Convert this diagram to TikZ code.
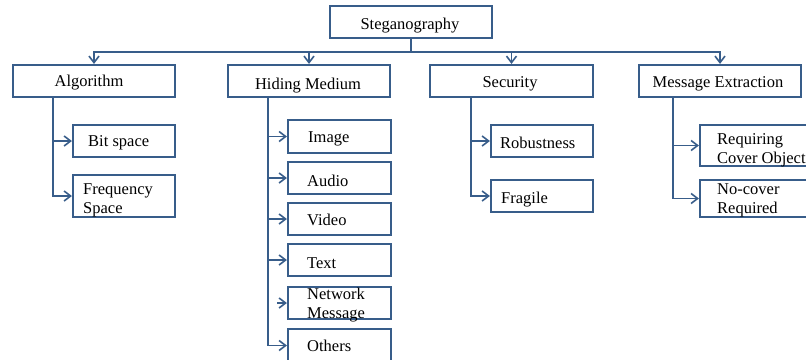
\documentclass[tikz,border=0pt]{standalone}
\usepackage{fontspec}
\setmainfont{Liberation Serif}
\usetikzlibrary{arrows.meta,fit}
\definecolor{linecol}{RGB}{56,93,138}
\begin{document}
\begin{tikzpicture}[x=1pt,y=-1pt,
  box/.style={draw=linecol, line width=2.2pt, rectangle, inner sep=0pt},
  lbl/.style={inner sep=0pt, font=\fontsize{16.5}{19}\selectfont, text=black},
  conn/.style={draw=linecol, line width=1.8pt},
  arr/.style={conn, -{Straight Barb[length=6.5pt,width=10pt,line width=1.6pt]}}]
\useasboundingbox[fill=white] (0,0) rectangle (806,359);

% boxes
\node[box, fit={(330,6)(492,38)}]   (steg) {};
\node[box, fit={(13,65)(175,97)}]   (alg)  {};
\node[box, fit={(228,65)(390,97)}]  (hid)  {};
\node[box, fit={(430,65)(593,97)}]  (sec)  {};
\node[box, fit={(639,65)(801,97)}]  (msg)  {};
\node[box, fit={(73,125)(175,157)}] (bit)  {};
\node[box, fit={(73,175)(175,217)}] (freq) {};
\node[box, fit={(288,120)(391,153)}] (img) {};
\node[box, fit={(288,162)(391,194)}] (aud) {};
\node[box, fit={(288,203)(391,235)}] (vid) {};
\node[box, fit={(288,244)(391,276)}] (txt) {};
\node[box, fit={(288,287)(391,319)}] (net) {};
\node[box, fit={(288,329)(391,362)}] (oth) {};
\node[box, fit={(491,125)(593,157)}] (rob) {};
\node[box, fit={(491,180)(593,212)}] (fra) {};
\node[box, fit={(700,125)(812,166)}] (req) {};
\node[box, fit={(700,180)(812,217)}] (noc) {};

% labels
\node[lbl, anchor=base] (tsteg) at (410,29) {Steganography};
\node[lbl, anchor=base] (talg)  at (89,86)  {Algorithm};
\node[lbl, anchor=base] (thid)  at (308,89) {Hiding Medium};
\node[lbl, anchor=base] (tsec)  at (510,87) {Security};
\node[lbl, anchor=base] (tmsg)  at (718,87) {Message Extraction};
\node[lbl, anchor=base west] (tbit)  at (88,146)  {Bit space};
\node[lbl, anchor=base west] (tfr1)  at (83,194)  {Frequency};
\node[lbl, anchor=base west] (tfr2)  at (83,213)  {Space};
\node[lbl, anchor=base west] (timg)  at (308,142) {Image};
\node[lbl, anchor=base west] (taud)  at (307,186) {Audio};
\node[lbl, anchor=base west] (tvid)  at (307,225) {Video};
\node[lbl, anchor=base west] (ttxt)  at (307,268) {Text};
\node[lbl, anchor=base west] (tnt1)  at (307,299) {Network};
\node[lbl, anchor=base west] (tnt2)  at (307,318) {Message};
\node[lbl, anchor=base west] (toth)  at (307,351) {Others};
\node[lbl, anchor=base west] (trob)  at (500,148) {Robustness};
\node[lbl, anchor=base west] (tfra)  at (501,203) {Fragile};
\node[lbl, anchor=base west] (trq1)  at (717,144) {Requiring};
\node[lbl, anchor=base west] (trq2)  at (717,163) {Cover Object};
\node[lbl, anchor=base west] (tnc1)  at (717,194) {No-cover};
\node[lbl, anchor=base west] (tnc2)  at (717,213) {Required};

% junction points of the connectors
\coordinate (bus)  at (410,52);
\coordinate (algx) at (53,97);
\coordinate (hidx) at (268,97);
\coordinate (secx) at (471,97);
\coordinate (msgx) at (673,97);
\coordinate (netx) at (277,303);

% top-level bus
\draw[conn] (steg.south) -- (steg.south |- bus);
\draw[arr] (steg.south |- bus) -| (alg.north);
\draw[arr] (steg.south |- bus) -| (hid.north);
\draw[arr] (steg.south |- bus) -| (sec.north);
\draw[arr] (steg.south |- bus) -| (msg.north);

% branches
\draw[arr] (algx) |- (bit.west);
\draw[arr] (algx) |- (freq.west);

\draw[arr] (hidx) |- (img.west);
\draw[arr] (hidx) |- (aud.west);
\draw[arr] (hidx) |- (vid.west);
\draw[arr] (hidx) |- (txt.west);
\draw[arr] (netx) -- (net.west);
\draw[arr] (hidx) |- (oth.west);

\draw[arr] (secx) |- (rob.west);
\draw[arr] (secx) |- (fra.west);

\draw[arr] (msgx) |- (req.west);
\draw[arr] (msgx) |- (noc.west);
\end{tikzpicture}
\end{document}
